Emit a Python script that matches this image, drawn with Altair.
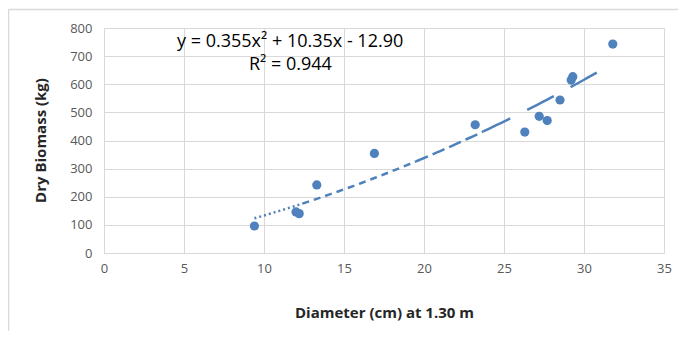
import altair as alt
import pandas as pd

# Data
diameter = [9.4, 12.0, 12.2, 13.3, 16.9, 23.2, 26.3, 27.2, 27.7, 28.5, 29.2, 29.3, 31.8]
biomass = [96, 146, 140, 242, 354, 456, 430, 486, 471, 544, 615, 627, 743]

x_ticks = [0, 5, 10, 15, 20, 25, 30, 35]
y_ticks = [0, 100, 200, 300, 400, 500, 600, 700, 800]

equation_text = "y = 0.355x\u00b2 + 10.35x - 12.90"
r2_text = "R\u00b2 = 0.944"

# trendline drawn in pieces (Excel rendering shows changing dash lengths)
seg_bounds = [9.4, 12.4, 19.5, 23.7, 30.8]
seg_dashes = [[2, 3], [7, 5], [13, 5], [30, 19]]

BLUE = "#4F81BD"
GRID = "#d9d9d9"
FONT = "Open Sans"

df = pd.DataFrame({"d": diameter, "b": biomass})

xs = alt.Scale(domain=[0, 35], nice=False)
ys = alt.Scale(domain=[0, 800], nice=False)

x_enc = alt.X(
    "d:Q", scale=xs,
    axis=alt.Axis(values=x_ticks, title="Diameter (cm) at 1.30 m", titleX=280, titleY=59,
                  titleBaseline="middle", labelPadding=9, labelFlush=False, labelOverlap=False),
)
y_enc = alt.Y(
    "b:Q", scale=ys,
    axis=alt.Axis(values=y_ticks, title="Dry Biomass (kg)", titleX=-64, titleY=112,
                  titleAngle=-90, titleBaseline="middle", titleAlign="center", labelPadding=12,
                  labelOverlap=False, labelFlush=False),
)

base = alt.Chart(df)

lines = []
for i, dash in enumerate(seg_dashes):
    lines.append(
        base.transform_regression("d", "b", method="poly", order=2,
                                  extent=[seg_bounds[i], seg_bounds[i + 1]])
        .mark_line(color=BLUE, strokeWidth=2.5, strokeDash=dash, clip=False)
        .encode(x=x_enc, y=y_enc)
    )

points = base.mark_circle(size=85, color=BLUE, opacity=1).encode(x=x_enc, y=y_enc)

eq = alt.Chart(pd.DataFrame({"t": [equation_text]})).mark_text(
    align="left", baseline="alphabetic", fontSize=18, font=FONT, color="#000"
).encode(x=alt.value(73), y=alt.value(19), text="t:N")

r2 = alt.Chart(pd.DataFrame({"t": [r2_text]})).mark_text(
    align="left", baseline="alphabetic", fontSize=18, font=FONT, color="#000"
).encode(x=alt.value(145), y=alt.value(42), text="t:N")

border_left = alt.Chart(pd.DataFrame({"k": [0]})).mark_rule(color=GRID, strokeWidth=1.5).encode(
    x=alt.value(-95.5), y=alt.value(-18.5), y2=alt.value(400)
)
border_top = alt.Chart(pd.DataFrame({"k": [0]})).mark_rule(color=GRID, strokeWidth=1.5).encode(
    x=alt.value(-95.5), x2=alt.value(700), y=alt.value(-18.5)
)

chart = alt.layer(points, *lines, eq, r2, border_left, border_top).properties(
    width=560, height=225,
    autosize=alt.AutoSizeParams(type="none"),
    padding={"left": 96, "top": 20, "right": 14, "bottom": 78},
).configure_view(stroke=None).configure_axis(
    grid=True, gridColor=GRID, domainColor=GRID, ticks=False,
    labelFont=FONT, labelFontSize=13, labelColor="#595959",
    titleFont=FONT, titleFontSize=15, titleFontWeight="bold", titleColor="#262626",
)

chart.save("out.html", embed_options={"renderer": "svg", "actions": False})
